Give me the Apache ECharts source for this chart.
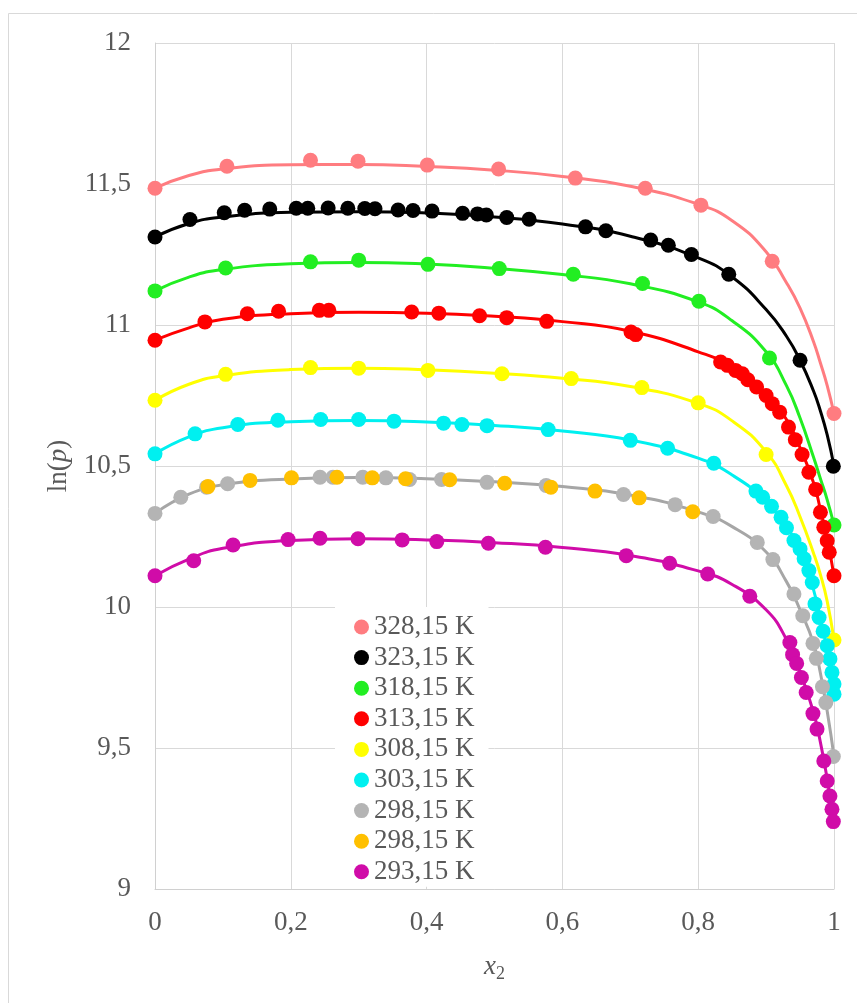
<!DOCTYPE html>
<html>
<head>
<meta charset="utf-8">
<script src="https://cdn.jsdelivr.net/npm/echarts@6/dist/echarts.min.js"></script>
<style>
html,body{margin:0;padding:0;background:#fff;}
#chart{width:857px;height:1003px;}
</style>
</head>
<body>
<div id="chart"></div>
<script>
// ---- Data ----
const seriesLabels = ['328,15 K','323,15 K','318,15 K','313,15 K','308,15 K','303,15 K','298,15 K','298,15 K','293,15 K'];
const xTicks = [0, 0.2, 0.4, 0.6, 0.8, 1];
const yTicks = [9, 9.5, 10, 10.5, 11, 11.5, 12];

const pts328 = [[0,11.485],[0.106,11.563],[0.229,11.584],[0.299,11.581],[0.401,11.567],[0.506,11.553],[0.619,11.521],[0.722,11.485],[0.804,11.425],[0.909,11.226],[1.0,10.686]];
const pts323 = [[0,11.312],[0.0515,11.374],[0.102,11.398],[0.132,11.407],[0.169,11.411],[0.208,11.414],[0.225,11.414],[0.255,11.415],[0.284,11.414],[0.309,11.413],[0.324,11.412],[0.358,11.408],[0.380,11.406],[0.408,11.404],[0.453,11.396],[0.475,11.394],[0.488,11.390],[0.518,11.381],[0.551,11.375],[0.634,11.348],[0.664,11.334],[0.730,11.301],[0.756,11.283],[0.790,11.250],[0.845,11.180],[0.950,10.875],[0.999,10.499]];
const pts318 = [[0,11.121],[0.104,11.202],[0.229,11.224],[0.300,11.230],[0.402,11.215],[0.507,11.200],[0.616,11.180],[0.718,11.147],[0.801,11.084],[0.905,10.883],[1.0,10.291]];
const pts313 = [[0,10.946],[0.0735,11.011],[0.136,11.040],[0.182,11.049],[0.242,11.052],[0.256,11.052],[0.378,11.046],[0.418,11.042],[0.478,11.033],[0.518,11.026],[0.577,11.013],[0.701,10.975],[0.708,10.966],[0.833,10.869],[0.843,10.857],[0.855,10.839],[0.865,10.827],[0.873,10.806],[0.886,10.780],[0.900,10.750],[0.909,10.721],[0.920,10.691],[0.933,10.638],[0.943,10.593],[0.953,10.541],[0.963,10.478],[0.973,10.417],[0.980,10.336],[0.985,10.283],[0.990,10.235],[0.993,10.194],[1.0,10.111]];
const pts308 = [[0,10.733],[0.104,10.825],[0.229,10.849],[0.300,10.847],[0.402,10.839],[0.511,10.827],[0.613,10.810],[0.717,10.778],[0.800,10.724],[0.900,10.541],[1.0,9.883]];
const pts303 = [[0,10.543],[0.059,10.614],[0.122,10.647],[0.181,10.662],[0.244,10.665],[0.300,10.665],[0.352,10.659],[0.425,10.652],[0.452,10.647],[0.489,10.643],[0.579,10.629],[0.700,10.591],[0.755,10.563],[0.823,10.510],[0.885,10.411],[0.895,10.389],[0.908,10.357],[0.922,10.318],[0.930,10.281],[0.941,10.236],[0.950,10.206],[0.956,10.171],[0.963,10.129],[0.968,10.087],[0.972,10.011],[0.978,9.963],[0.984,9.914],[0.990,9.863],[0.994,9.816],[0.997,9.768],[1.0,9.727],[1.0,9.691]];
const pts298a = [[0,10.332],[0.038,10.389],[0.076,10.425],[0.107,10.437],[0.243,10.460],[0.262,10.460],[0.306,10.460],[0.340,10.458],[0.375,10.452],[0.422,10.452],[0.489,10.442],[0.576,10.431],[0.690,10.399],[0.766,10.363],[0.822,10.321],[0.887,10.229],[0.910,10.168],[0.941,10.046],[0.954,9.969],[0.969,9.871],[0.974,9.818],[0.983,9.717],[0.988,9.661],[0.999,9.470]];
const pts298b = [[0.078,10.427],[0.140,10.449],[0.201,10.458],[0.268,10.460],[0.320,10.458],[0.369,10.455],[0.434,10.451],[0.515,10.439],[0.583,10.425],[0.648,10.411],[0.713,10.387],[0.792,10.338]];
const pts293 = [[0,10.111],[0.057,10.164],[0.115,10.220],[0.196,10.239],[0.243,10.244],[0.299,10.242],[0.364,10.238],[0.415,10.232],[0.491,10.226],[0.575,10.212],[0.694,10.182],[0.758,10.155],[0.814,10.117],[0.876,10.038],[0.935,9.874],[0.939,9.831],[0.945,9.800],[0.952,9.750],[0.959,9.697],[0.969,9.622],[0.975,9.567],[0.985,9.454],[0.990,9.383],[0.994,9.330],[0.997,9.283],[0.999,9.239]];

// fitted curves (read at these x positions)
const fitX = [0, 0.05, 0.1, 0.2, 0.3, 0.4, 0.5, 0.6, 0.7, 0.8, 0.85, 0.9, 0.93, 0.95, 0.97, 0.98, 0.99, 1.0];
const fit328 = [11.485, 11.53, 11.553, 11.568, 11.569, 11.562, 11.549, 11.527, 11.492, 11.428, 11.37, 11.26, 11.15, 11.06, 10.94, 10.865, 10.785, 10.686];
const fit323 = [11.312, 11.36, 11.383, 11.400, 11.402, 11.397, 11.383, 11.358, 11.315, 11.238, 11.17, 11.055, 10.96, 10.875, 10.765, 10.695, 10.61, 10.50];
const fit318 = [11.121, 11.17, 11.197, 11.217, 11.222, 11.216, 11.201, 11.179, 11.146, 11.082, 11.015, 10.905, 10.785, 10.67, 10.53, 10.455, 10.38, 10.291];
const fit313 = [10.946, 10.99, 11.020, 11.040, 11.045, 11.042, 11.031, 11.012, 10.978, 10.905, 10.85, 10.752, 10.665, 10.565, 10.44, 10.345, 10.24, 10.111];
const fit308 = [10.733, 10.79, 10.820, 10.842, 10.847, 10.841, 10.829, 10.811, 10.782, 10.722, 10.66, 10.55, 10.43, 10.32, 10.19, 10.115, 10.02, 9.883];
const fit303 = [10.543, 10.603, 10.636, 10.657, 10.661, 10.656, 10.644, 10.624, 10.592, 10.528, 10.468, 10.375, 10.285, 10.2, 10.06, 9.955, 9.848, 9.70];
const fit298 = [10.332, 10.40, 10.433, 10.454, 10.459, 10.455, 10.444, 10.427, 10.397, 10.337, 10.285, 10.195, 10.09, 9.99, 9.87, 9.765, 9.63, 9.47];
const fit293 = [10.111, 10.17, 10.208, 10.236, 10.242, 10.238, 10.228, 10.211, 10.182, 10.128, 10.08, 9.99, 9.885, 9.77, 9.625, 9.52, 9.39, 9.23];

// ---- Styling ----
const colors = ['#FF7C80','#000000','#22EE22','#FF0000','#FFFF00','#00F0F0','#B4B4B4','#FFC000','#D00CA8'];
const lineColors = ['#FF7C80','#000000','#22EE22','#FF0000','#FFFF00','#00F0F0','#A6A6A6',null,'#D00CA8'];
const pointSets = [pts328, pts323, pts318, pts313, pts308, pts303, pts298a, pts298b, pts293];
const fitSets = [fit328, fit323, fit318, fit313, fit308, fit303, fit298, null, fit293];
const seriesIds = ['s328','s323','s318','s313','s308','s303','s298a','s298b','s293'];

const FONT = 'Liberation Serif';
const TXT = '#595959';
const FS = 27;
const fmt = v => String(Number(v.toFixed(2))).replace('.', ',');

const series = [];
fitSets.forEach((f, i) => {
  if (!f) return;
  series.push({
    name: 'fit_' + seriesIds[i],
    type: 'line',
    data: fitX.map((x, k) => [x, f[k]]),
    showSymbol: false,
    symbol: 'none',
    smooth: 0.5,
    lineStyle: { color: lineColors[i], width: 3 },
    z: 2,
    silent: true
  });
});
pointSets.forEach((p, i) => {
  series.push({
    name: seriesIds[i],
    type: 'scatter',
    data: p,
    symbol: 'circle',
    symbolSize: 15,
    itemStyle: { color: colors[i], opacity: 1 },
    z: 3
  });
});

const labelMap = {};
seriesIds.forEach((id, i) => labelMap[id] = seriesLabels[i]);

const chart = echarts.init(document.getElementById('chart'), null, { renderer: 'canvas' });
chart.setOption({
  animation: false,
  backgroundColor: '#fff',
  textStyle: { fontFamily: FONT },
  grid: { left: 155, right: 23, top: 43, bottom: 114 },
  xAxis: {
    type: 'value', min: 0, max: 1, interval: 0.2,
    axisLine: { show: true, lineStyle: { color: '#D0D0D0', width: 1 } },
    axisTick: { show: false },
    splitLine: { show: true, lineStyle: { color: '#D9D9D9', width: 1 } },
    axisLabel: { formatter: fmt, color: TXT, fontSize: FS, fontFamily: FONT, margin: 20 },
    name: '{i|x}{s|2}',
    nameLocation: 'middle',
    nameGap: 62,
    nameTextStyle: {
      rich: {
        i: { fontSize: FS, fontStyle: 'italic', fontFamily: FONT, color: TXT },
        s: { fontSize: 18, fontFamily: FONT, color: TXT, padding: [14, 0, 0, 0] }
      }
    }
  },
  yAxis: {
    type: 'value', min: 9, max: 12, interval: 0.5,
    axisLine: { show: true, lineStyle: { color: '#D0D0D0', width: 1 } },
    axisTick: { show: false },
    splitLine: { show: true, lineStyle: { color: '#D9D9D9', width: 1 } },
    axisLabel: { formatter: fmt, color: TXT, fontSize: FS, fontFamily: FONT, margin: 24 },
    name: '{a|ln(}{i|p}{a|)}',
    nameLocation: 'middle',
    nameRotate: 90,
    nameGap: 82,
    nameTextStyle: {
      rich: {
        a: { fontSize: FS, fontFamily: FONT, color: TXT },
        i: { fontSize: FS, fontStyle: 'italic', fontFamily: FONT, color: TXT }
      }
    }
  },
  legend: {
    data: seriesIds,
    orient: 'vertical',
    left: 335, top: 607,
    padding: [6, 14, 1, 19],
    itemGap: 2.6,
    itemWidth: 15, itemHeight: 15,
    icon: 'circle',
    backgroundColor: '#ffffff',
    formatter: n => labelMap[n],
    textStyle: { color: TXT, fontSize: FS, fontFamily: FONT, lineHeight: 28 },
    selectedMode: false,
    z: 10
  },
  graphic: [{
    type: 'rect',
    shape: { x: 8.5, y: 13.5, width: 900, height: 1100 },
    style: { fill: 'none', stroke: '#D9D9D9', lineWidth: 1 },
    silent: true,
    z: -1
  }],
  series: series
});
</script>
</body>
</html>
